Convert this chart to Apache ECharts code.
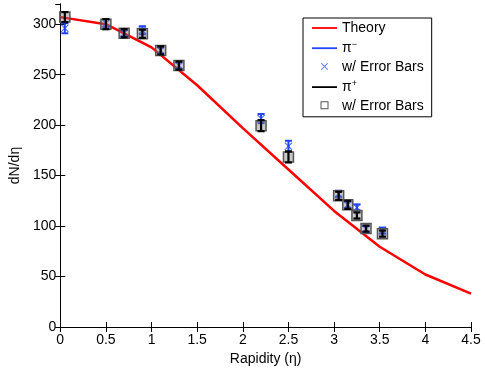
<!DOCTYPE html>
<html>
<head>
<meta charset="utf-8">
<script src="https://cdn.jsdelivr.net/npm/echarts@6/dist/echarts.min.js"></script>
<style>
  html, body { margin: 0; padding: 0; background: #fff; }
  #chart { width: 485px; height: 371px; }
</style>
</head>
<body>
<div id="chart"></div>
<script>
// theory curve
const theoryX = [0, 0.5, 1, 1.5, 2, 2.5, 3, 3.5, 4, 4.5]
const theoryY = [307, 300, 277, 239.5, 197, 156, 115, 79.5, 52, 33]

// measured points
const pointX = [0.05, 0.5, 0.7, 0.9, 1.1, 1.3, 2.2, 2.5, 3.05, 3.15, 3.25, 3.35, 3.53]
const piMinusY = [296, 301, 291, 294, 274, 259, 206.5, 179, 132, 121, 118.5, 97, 95.5]
const piMinusErr = [5, 4, 3, 4, 3, 3, 4.5, 5.5, 3, 3, 3, 3, 3]
const piPlusY = [307, 300, 291, 290.5, 274, 259, 199.5, 168.5, 130, 121, 110.5, 97.5, 92.5]
const piPlusErr = [5, 5, 4, 4, 4, 4, 5.5, 5.5, 4, 4, 3, 3, 3]

const xTicks = [0, 4.5, 0.5]   // min, max, step
const yTicks = [0, 320, 50]

const font = 'Liberation Sans, Arial, Helvetica, sans-serif'
const red = '#ff0000'
const blue = '#2244ff'
const crossMark = 'path://M0,1 L1,0 L5,4 L9,0 L10,1 L6,5 L10,9 L9,10 L5,6 L1,10 L0,9 L4,5 Z'

// legend icons drawn in a 25x14 box so they keep their size
const lineIcon = 'path://M0,0 M25,14 M0,6.1 L25,6.1 L25,7.9 L0,7.9 Z'
const crossIcon = 'path://M0,0 M25,14 M9,3.6 L9.6,3 L12.5,5.9 L15.4,3 L16,3.6 L13.1,6.5 L16,9.4 L15.4,10 L12.5,7.1 L9.6,10 L9,9.4 L11.9,6.5 Z'
const squareIcon = 'path://M0,0 M25,14 M8.5,2.5 L16.5,2.5 L16.5,10.5 L8.5,10.5 Z M9.5,3.5 L9.5,9.5 L15.5,9.5 L15.5,3.5 Z'

function errData (ys, errs) {
  return pointX.map((x, i) => [x, ys[i] - errs[i], ys[i] + errs[i]])
}

function errBar (color, lw) {
  return function (params, api) {
    const lo = api.coord([api.value(0), api.value(1)])
    const hi = api.coord([api.value(0), api.value(2)])
    const w = 3.5
    const style = { stroke: color, lineWidth: lw, fill: null }
    return {
      type: 'group',
      children: [
        { type: 'line', shape: { x1: lo[0], y1: lo[1], x2: hi[0], y2: hi[1] }, style: style },
        { type: 'line', shape: { x1: lo[0] - w, y1: lo[1], x2: lo[0] + w, y2: lo[1] }, style: style },
        { type: 'line', shape: { x1: hi[0] - w, y1: hi[1], x2: hi[0] + w, y2: hi[1] }, style: style }
      ]
    }
  }
}

const chart = echarts.init(document.getElementById('chart'), null, { renderer: 'canvas' })

const axisLine = { show: true, lineStyle: { color: '#000', width: 1 } }
const axisTick = { show: true, inside: true, length: 5, lineStyle: { color: '#000' } }

const option = {
  animation: false,
  backgroundColor: '#fff',
  textStyle: { fontFamily: font },
  grid: { left: 54, right: 14, top: 4, bottom: 39 },
  legend: {
    orient: 'vertical',
    left: 303,
    top: 18,
    padding: [3, 8, 4, 9],
    borderColor: '#000',
    borderWidth: 1,
    backgroundColor: '#fff',
    itemWidth: 25,
    itemHeight: 14,
    itemGap: 4.7,
    textStyle: {
      fontFamily: font,
      fontSize: 14,
      color: '#000',
      rich: {
        p: { fontFamily: font, fontSize: 14, color: '#000' },
        s: { fontFamily: font, fontSize: 9, color: '#000', verticalAlign: 'top', padding: [0, 0, 8, 0] }
      }
    },
    formatter: function (name) {
      if (name === 'π-') return '{p|π}{s|−}'
      if (name === 'π+') return '{p|π}{s|+}'
      if (name.indexOf('err') >= 0) return 'w/ Error Bars'
      return name
    },
    data: [
      { name: 'Theory', icon: lineIcon, itemStyle: { color: red } },
      { name: 'π-', icon: lineIcon, itemStyle: { color: blue } },
      { name: 'π- err', icon: crossIcon, itemStyle: { color: blue } },
      { name: 'π+', icon: lineIcon, itemStyle: { color: '#000' } },
      { name: 'π+ err', icon: squareIcon, itemStyle: { color: '#555', borderWidth: 0 } }
    ]
  },
  xAxis: [{
    type: 'value',
    min: xTicks[0],
    max: xTicks[1],
    interval: xTicks[2],
    name: 'Rapidity (η)',
    nameLocation: 'middle',
    nameGap: 25,
    nameTextStyle: { fontFamily: font, fontSize: 14, color: '#000' },
    axisLine: axisLine,
    axisTick: axisTick,
    splitLine: { show: false },
    axisLabel: { fontFamily: font, fontSize: 14, color: '#000', margin: 6, formatter: v => String(v) }
  }, {
    type: 'value',
    position: 'top',
    min: xTicks[0],
    max: xTicks[1],
    interval: xTicks[2],
    axisLine: axisLine,
    axisTick: axisTick,
    splitLine: { show: false },
    axisLabel: { show: false }
  }],
  yAxis: [{
    type: 'value',
    min: yTicks[0],
    max: yTicks[1],
    interval: yTicks[2],
    name: 'dN/dη',
    nameLocation: 'middle',
    nameGap: 34,
    nameTextStyle: { fontFamily: font, fontSize: 14, color: '#000' },
    axisLine: axisLine,
    axisTick: axisTick,
    splitLine: { show: false },
    axisLabel: { fontFamily: font, fontSize: 14, color: '#000', margin: 4, showMaxLabel: false }
  }, {
    type: 'value',
    position: 'right',
    min: yTicks[0],
    max: yTicks[1],
    interval: yTicks[2],
    axisLine: axisLine,
    axisTick: axisTick,
    splitLine: { show: false },
    axisLabel: { show: false }
  }],
  series: [
    {
      name: 'Theory',
      type: 'line',
      data: theoryX.map((x, i) => [x, theoryY[i]]),
      symbol: 'none',
      color: red,
      lineStyle: { color: red, width: 2.5 },
      z: 2
    },
    {
      name: 'π-',
      type: 'line',
      data: [],
      symbol: 'none',
      color: blue,
      lineStyle: { color: blue, width: 2.5 }
    },
    {
      type: 'custom',
      renderItem: errBar(blue, 2),
      data: errData(piMinusY, piMinusErr),
      encode: { x: 0, y: [1, 2] },
      z: 3
    },
    {
      name: 'π- err',
      type: 'scatter',
      data: pointX.map((x, i) => [x, piMinusY[i]]),
      symbol: crossMark,
      symbolSize: 8,
      color: blue,
      itemStyle: { color: blue },
      z: 3
    },
    {
      name: 'π+',
      type: 'line',
      data: [],
      symbol: 'none',
      color: '#000',
      lineStyle: { color: '#000', width: 2.5 }
    },
    {
      name: 'π+ err',
      type: 'scatter',
      data: pointX.map((x, i) => [x, piPlusY[i]]),
      symbol: 'rect',
      symbolSize: 10,
      color: '#555',
      itemStyle: { color: 'rgba(120,120,120,0.4)', borderColor: '#555', borderWidth: 1.5, opacity: 1 },
      z: 4
    },
    {
      type: 'custom',
      renderItem: errBar('#000', 2.2),
      data: errData(piPlusY, piPlusErr),
      encode: { x: 0, y: [1, 2] },
      z: 5
    }
  ]
}

chart.setOption(option)
</script>
</body>
</html>
